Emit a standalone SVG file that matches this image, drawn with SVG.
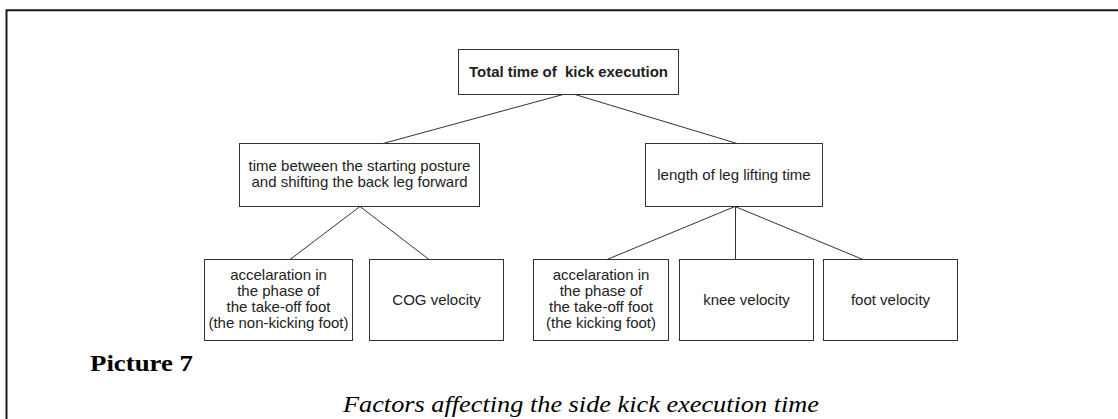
<svg xmlns="http://www.w3.org/2000/svg" width="1118" height="419" viewBox="0 0 1118 419">
<style>
.box{fill:#fff;stroke:#333;stroke-width:1}
.t{font-family:"Liberation Sans",Arial,sans-serif;font-size:15px;fill:#222;text-anchor:middle}
.b{font-weight:bold}
.con line{stroke:#333;stroke-width:1}
.frame{stroke:#1a1a1a;stroke-width:2;fill:none}
.cap{font-family:"Liberation Serif","Times New Roman",serif;font-size:23.5px;fill:#000}
</style>
<rect width="1118" height="419" fill="#fff"/>
<path class="frame" d="M6.5,419 V10.3 H1118"/>
<g class="con">
<line x1="563" y1="94.5" x2="383" y2="143.5"/>
<line x1="575" y1="94.5" x2="737" y2="143.5"/>
<line x1="360" y1="206.5" x2="290" y2="259.5"/>
<line x1="360" y1="206.5" x2="429" y2="259.5"/>
<line x1="735" y1="206.5" x2="607" y2="259.5"/>
<line x1="735.5" y1="206.5" x2="735.5" y2="259.5"/>
<line x1="735" y1="206.5" x2="863" y2="259.5"/>
</g>
<g id="n-total">
<rect class="box" x="458.5" y="49.5" width="220" height="45"/>
<text class="t b" x="568.5" y="77" textLength="199" lengthAdjust="spacing" xml:space="preserve">Total time of  kick execution</text>
</g>
<g id="n-between">
<rect class="box" x="239.5" y="143.5" width="240" height="63"/>
<text class="t" x="359.5" y="171">time between the starting posture</text>
<text class="t" x="359.5" y="187">and shifting the back leg forward</text>
</g>
<g id="n-lifting">
<rect class="box" x="645.5" y="143.5" width="177" height="63"/>
<text class="t" x="734" y="179.5">length of leg lifting time</text>
</g>
<g id="n-accel-nonkick">
<rect class="box" x="204.5" y="259.5" width="148" height="81"/>
<text class="t" x="278.5" y="280">accelaration in</text>
<text class="t" x="278.5" y="296">the phase of</text>
<text class="t" x="278.5" y="312">the take-off foot</text>
<text class="t" x="278.5" y="328">(the non-kicking foot)</text>
</g>
<g id="n-cog">
<rect class="box" x="369.5" y="259.5" width="134" height="81"/>
<text class="t" x="436.5" y="305">COG velocity</text>
</g>
<g id="n-accel-kick">
<rect class="box" x="533.5" y="259.5" width="135" height="81"/>
<text class="t" x="601" y="280">accelaration in</text>
<text class="t" x="601" y="296">the phase of</text>
<text class="t" x="601" y="312">the take-off foot</text>
<text class="t" x="601" y="328">(the kicking foot)</text>
</g>
<g id="n-knee">
<rect class="box" x="679.5" y="259.5" width="134" height="81"/>
<text class="t" x="746.5" y="305">knee velocity</text>
</g>
<g id="n-foot">
<rect class="box" x="823.5" y="259.5" width="134" height="81"/>
<text class="t" x="890.5" y="305">foot velocity</text>
</g>
<text class="cap" x="90" y="371" font-weight="bold" textLength="103" lengthAdjust="spacingAndGlyphs">Picture 7</text>
<text class="cap" x="343" y="412" font-style="italic" textLength="476" lengthAdjust="spacingAndGlyphs">Factors affecting the side kick execution time</text>
</svg>
